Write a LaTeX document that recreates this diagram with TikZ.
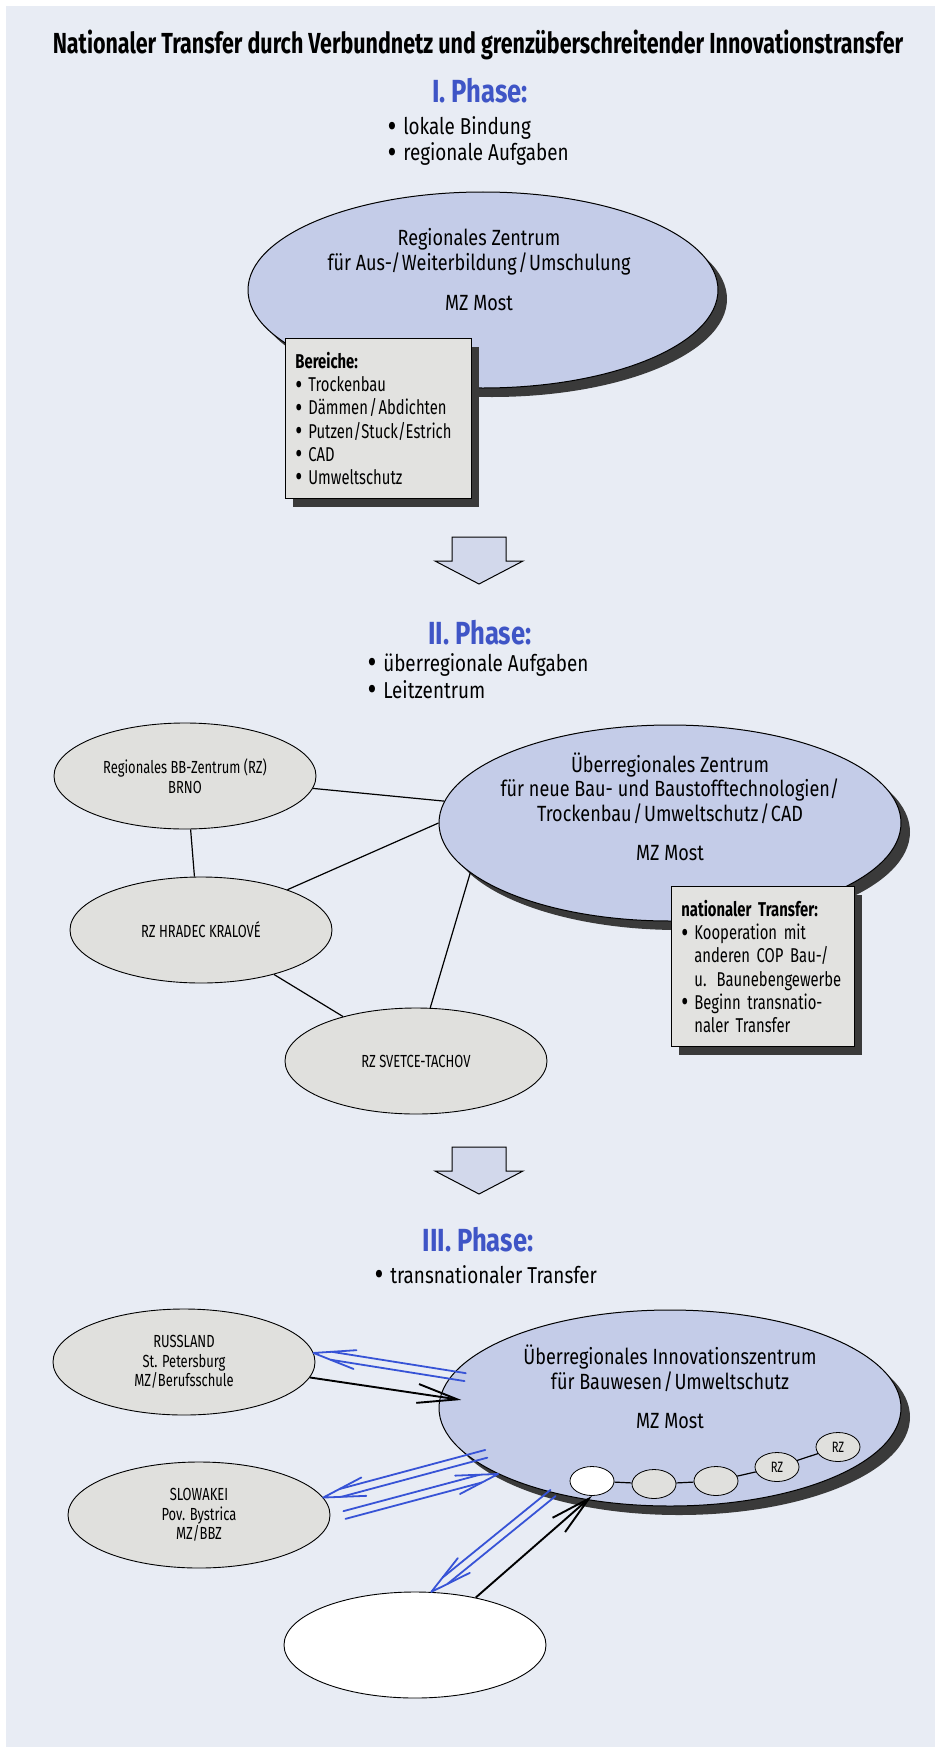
\documentclass[tikz,border=0pt]{standalone}
\usepackage{fontspec}
\setmainfont{Fira Sans}[FakeStretch=0.82]
\newfontfamily\headfont{Fira Sans}[FakeStretch=0.74]
\newfontfamily\phasefont{Fira Sans}[FakeStretch=0.80]
\newfontfamily\narrowfont{Fira Sans}[FakeStretch=0.74]
\usetikzlibrary{arrows.meta,positioning,shapes.geometric,calc,shadows}

\definecolor{paperbg}{HTML}{E8ECF4}
\definecolor{zoneblue}{HTML}{C4CCE8}
\definecolor{rzgrey}{HTML}{E0E0DD}
\definecolor{boxgrey}{HTML}{E2E2E0}
\definecolor{shadowgrey}{HTML}{3A3A3A}
\definecolor{phaseblue}{HTML}{3F55C6}
\definecolor{linkblue}{HTML}{3753D6}
\definecolor{flowfill}{HTML}{D2D8EB}

% big round bullet
\newcommand{\blt}{\smash{\raisebox{-0.12em}{\scalebox{1.45}{•}}}\hspace{0.3em}}
\newcommand{\nobreaks}{\hyphenpenalty=10000\relax\exhyphenpenalty=10000\relax}

% block arrow between two phases, #1 = top centre
\newcommand{\phasearrow}[1]{%
  \draw[flowarrow, shift={#1}] (-27,0) -- (27,0) -- (27,24) -- (44,24)
    -- (0,47) -- (-44,24) -- (-27,24) -- cycle;}

% blue double-line transfer arrow, #1 = start, #2 = tip
\newcommand{\twinarrow}[2]{%
  \coordinate (tw0) at (#1);
  \coordinate (tw1) at (#2);
  \coordinate (tw2) at ($(tw1)!18pt!(tw0)$);
  \coordinate (tw3) at ($(tw1)!42pt!(tw0)$);
  \draw[twin] ($(tw0)!4pt!90:(tw1)$) -- ($(tw2)!4pt!-90:(tw0)$)
              ($(tw0)!4pt!-90:(tw1)$) -- ($(tw2)!4pt!90:(tw0)$);
  \draw[twin] ($(tw3)!9.5pt!-90:(tw0)$) -- (tw1) -- ($(tw3)!9.5pt!90:(tw0)$);}

\begin{document}
\begin{tikzpicture}[x=1pt, y=-1pt,
  headline/.style={font=\headfont\bfseries\fontsize{29}{32}\selectfont},
  phase/.style={font=\phasefont\bfseries\fontsize{32}{34}\selectfont, text=phaseblue},
  points/.style={anchor=base west, font=\fontsize{23}{26}\selectfont},
  zone/.style={ellipse, draw, line width=1pt, fill=zoneblue,
    minimum width=462pt, minimum height=196pt,
    drop shadow={shadow xshift=9pt, shadow yshift=-9pt, fill=shadowgrey, opacity=1}},
  zonetext/.style={align=center, font=\fontsize{22}{24.5}\selectfont},
  rz/.style={ellipse, draw, line width=0.9pt, fill=rzgrey,
    minimum width=262pt, minimum height=106pt, align=center,
    font=\narrowfont\fontsize{17.5}{19.5}\selectfont},
  minirz/.style={ellipse, draw, line width=0.8pt, fill=rzgrey, inner sep=0pt,
    minimum width=44pt, minimum height=29pt, font=\narrowfont\fontsize{15}{15}\selectfont},
  infobox/.style={rectangle, draw, line width=0.9pt, fill=boxgrey, anchor=north west,
    align=left, minimum height=160pt, inner xsep=10pt,
    font=\narrowfont\fontsize{20}{23.2}\selectfont\nobreaks,
    drop shadow={shadow xshift=8pt, shadow yshift=-9pt, fill=shadowgrey, opacity=1}},
  flowarrow/.style={draw, line width=1pt, fill=flowfill},
  link/.style={line width=1.2pt},
  twin/.style={linkblue, line width=1.8pt, line join=round, line cap=round},
  push/.style={line width=1.9pt, -{Straight Barb[length=40pt, width=19pt]}}
]
  % page
  \fill[white] (0,0) rectangle (935,1747);
  \fill[paperbg] (6,6) rectangle (935,1747);

  \node[headline, anchor=base] (title) at (478,54)
    {Nationaler Transfer durch Verbundnetz und grenzüberschreitender Innovationstransfer};

  % phase I
  \node[phase, anchor=base] (ph1) at (480,103) {I. Phase:};
  \node[points] (ph1a) at (384,135) {\blt lokale Bindung};
  \node[points] (ph1b) at (384,161) {\blt regionale Aufgaben};

  \node[zone, minimum width=470pt] (most1) at (483,290) {};
  \node[zonetext] (most1txt) at ([xshift=-4pt,yshift=20pt]most1.center)
    {Regionales Zentrum\\für Aus-/\hspace{1.5pt}Weiterbildung\hspace{1.5pt}/\hspace{1.5pt}Umschulung\\[16pt]MZ Most};
  \node[infobox, text width=166pt] (areas) at (285,338)
    {\textbf{Bereiche:}\\\blt Trockenbau\\\blt Dämmen\hspace{1.5pt}/\hspace{1.5pt}Abdichten\\\blt Putzen/Stuck/Estrich\\\blt CAD\\\blt Umweltschutz};

  \phasearrow{(479,537)}

  % phase II
  \node[phase, anchor=base] (ph2) at (480,644) {II. Phase:};
  \node[points] (ph2a) at (364,671) {\blt überregionale Aufgaben};
  \node[points] (ph2b) at (364,698) {\blt Leitzentrum};

  \node[rz] (brno) at (185,776) {Regionales BB-Zentrum (RZ)\\BRNO};
  \node[rz] (hradec) at (201,930) {RZ HRADEC KRALOVÉ};
  \node[rz] (svetce) at (416,1061) {RZ SVETCE-TACHOV};
  \node[zone] (most2) at (670,823) {};
  \node[zonetext] (most2txt) at ([yshift=16pt]most2.center)
    {Überregionales Zentrum\\für neue Bau- und Baustofftechnologien/\\Trockenbau\hspace{1.5pt}/\hspace{1.5pt}Umweltschutz\hspace{1.5pt}/\hspace{1.5pt}CAD\\[15pt]MZ Most};
  \node[infobox, text width=163pt] (natbox) at (671,886)
    {\textbf{nationaler Transfer:}\\\blt Kooperation mit\\\phantom{\blt}anderen COP Bau-/\\\phantom{\blt}u. Baunebengewerbe\\\blt Beginn transnatio-\\\phantom{\blt}naler Transfer};

  \draw[link] (brno) -- (most2);
  \draw[link] (brno.-84) -- (hradec.97);
  \draw[link] (hradec.25) -- (most2.180);
  \draw[link] (hradec) -- (svetce);
  \draw[link] (svetce.75) -- (most2.194);

  \phasearrow{(479,1147)}

  % phase III
  \node[phase, anchor=base] (ph3) at (478,1251) {III. Phase:};
  \node[points] (ph3a) at (371,1283) {\blt transnationaler Transfer};

  \node[rz] (russ) at (184,1362) {RUSSLAND\\St. Petersburg\\MZ/Berufsschule};
  \node[rz] (slow) at (199,1515) {SLOWAKEI\\Pov. Bystrica\\MZ/BBZ};
  \node[rz, fill=white] (bare) at (415,1645) {};
  \node[zone] (most3) at (670,1408) {};
  \node[zonetext] (most3txt) at ([yshift=21pt]most3.center)
    {Überregionales Innovationszentrum\\für Bauwesen\hspace{1.5pt}/\hspace{1.5pt}Umweltschutz\\[15pt]MZ Most};

  \node[minirz, fill=white] (c0) at (592,1481) {};
  \node[minirz] (c1) at (654,1484) {};
  \node[minirz] (c2) at (716,1481) {};
  \node[minirz] (c3) at (777,1467) {RZ};
  \node[minirz] (c4) at (838,1447) {RZ};
  \draw[link] (c0) -- (c1) (c1) -- (c2) (c2) -- (c3) (c3) -- (c4);

  \twinarrow{[xshift=15pt]most3.172}{russ.4}
  \draw[push] (russ.-7) -- ([xshift=22pt]most3.178);
  \twinarrow{[xshift=16pt,yshift=4pt]most3.-166}{slow.8}
  \twinarrow{[xshift=14pt]slow.0}{most3.-159}
  \twinarrow{most3.-144}{bare.73}
  \draw[push] (bare.38) -- (c0.south);
\end{tikzpicture}
\end{document}
